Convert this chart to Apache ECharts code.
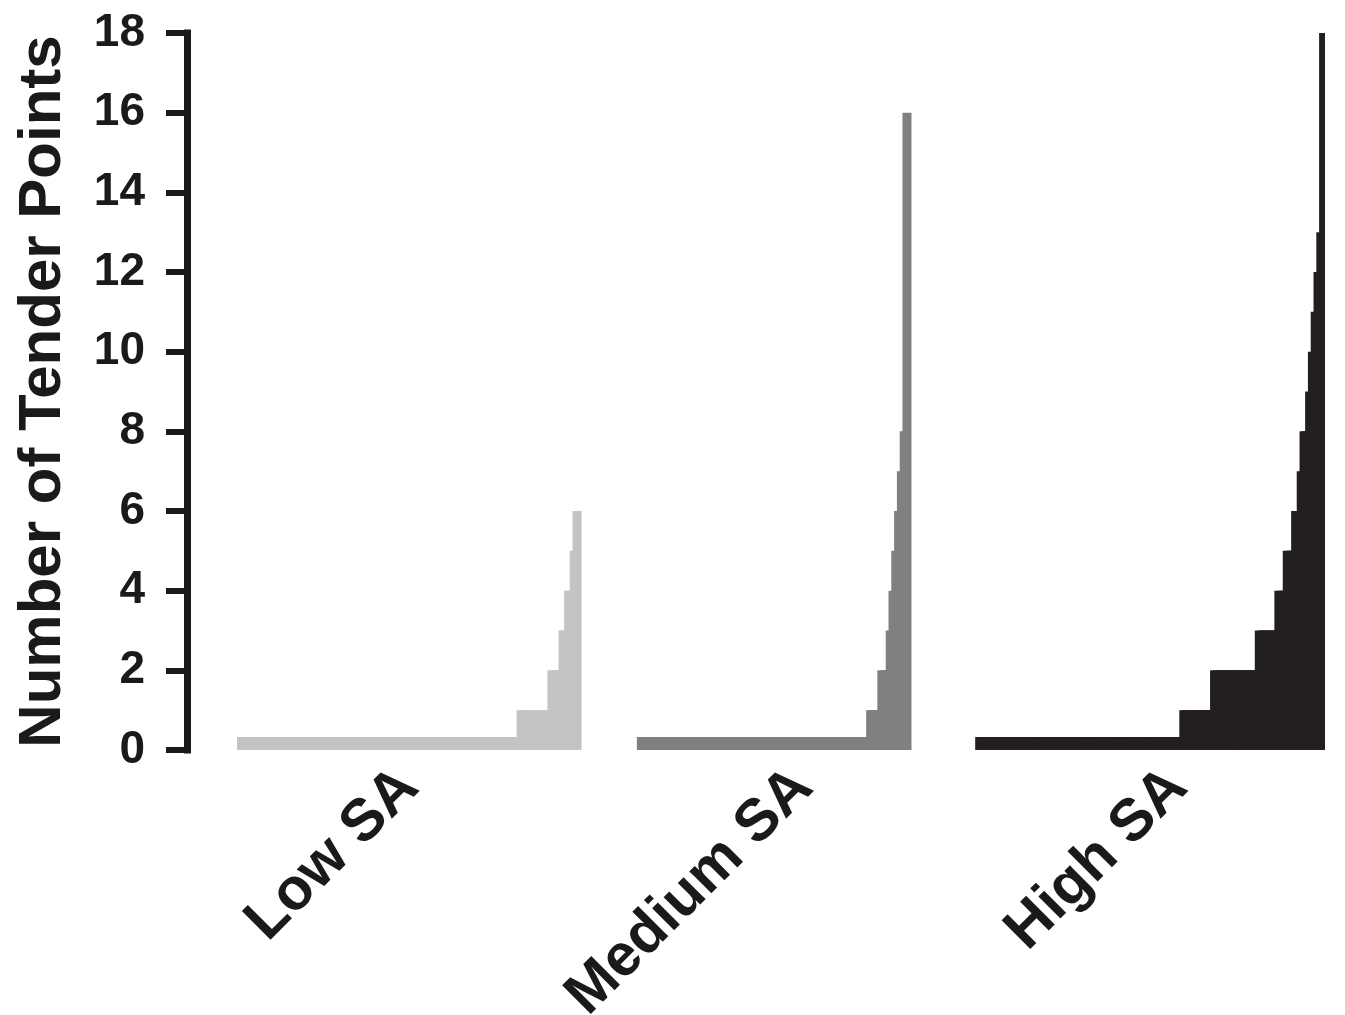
<!DOCTYPE html>
<html>
<head>
<meta charset="utf-8">
<script src="https://cdn.jsdelivr.net/npm/echarts@6/dist/echarts.min.js"></script>
<style>
html,body{margin:0;padding:0;background:#ffffff;}
#chart{width:1345px;height:1015px;}
</style>
</head>
<body>
<div id="chart"></div>
<script>
// ---- Data (tender-point value and number of subjects at it) ----
const groupLabels = ['Low SA', 'Medium SA', 'High SA'];
const lowLevels  = [0, 1, 2, 3, 4, 5, 6];
const lowCounts  = [100, 11, 4, 2, 2, 1, 1];
const medLevels  = [0, 1, 2, 3, 4, 5, 6, 7, 8, 16];
const medCounts  = [82, 4, 3, 1, 1, 1, 1, 1, 1, 1];
const highLevels = [0, 1, 2, 3, 4, 5, 6, 7, 8, 9, 10, 11, 12, 13, 18];
const highCounts = [73, 11, 16, 7, 3, 3, 2, 1, 2, 1, 1, 1, 1, 1, 1];
const yTicks = [0, 2, 4, 6, 8, 10, 12, 14, 16, 18];

// ---- Build per-subject sorted values from the frequency tables ----
function expand(levels, counts) {
  const out = [];
  levels.forEach(function (v, i) { for (let k = 0; k < counts[i]; k++) out.push(v); });
  return out;
}
const groups = [expand(lowLevels, lowCounts), expand(medLevels, medCounts), expand(highLevels, highCounts)];

// layout of category slots (empty slots before/between groups)
const leadPad = 19;
const gaps = [22, 25];
const labelOffset = [60, 58, 71];
const colors = ['#c4c4c4', '#808080', '#231f20'];

const starts = [];
let idx = leadPad;
groups.forEach(function (g, gi) {
  starts.push(idx);
  idx += g.length;
  if (gi < gaps.length) idx += gaps[gi];
});
const total = idx;

const categories = [];
for (let i = 0; i < total; i++) categories.push('');
groups.forEach(function (g, gi) { categories[starts[gi] + labelOffset[gi]] = groupLabels[gi]; });

const series = groups.map(function (g, gi) {
  const data = [];
  for (let i = 0; i < total; i++) data.push('-');
  g.forEach(function (v, k) { data[starts[gi] + k] = v; });
  return {
    type: 'bar',
    name: groupLabels[gi],
    data: data,
    barWidth: 9,
    barGap: '-100%',
    barMinHeight: 13,
    itemStyle: { color: colors[gi] },
    emphasis: { disabled: true },
    animation: false
  };
});

const font = "'Liberation Sans', Arial, sans-serif";
const ink = '#1a1a1a';

const chart = echarts.init(document.getElementById('chart'), null, { renderer: 'canvas' });
chart.setOption({
  backgroundColor: '#ffffff',
  animation: false,
  grid: { left: 187, right: 20, top: 33, bottom: 265, containLabel: false, outerBoundsMode: 'none' },
  xAxis: {
    type: 'category',
    data: categories,
    boundaryGap: true,
    axisLine: { show: false },
    axisTick: { show: false },
    splitLine: { show: false },
    axisLabel: {
      interval: 0,
      rotate: 45,
      margin: 28,
      fontSize: 59,
      fontWeight: 'bold',
      fontFamily: font,
      color: ink
    }
  },
  yAxis: {
    type: 'value',
    min: yTicks[0],
    max: yTicks[yTicks.length - 1],
    interval: yTicks[1] - yTicks[0],
    name: 'Number of Tender Points',
    nameLocation: 'middle',
    nameRotate: 90,
    nameGap: 114,
    nameTextStyle: { fontSize: 60, fontWeight: 'bold', fontFamily: font, color: ink },
    axisLine: { show: true, lineStyle: { color: ink, width: 7, cap: 'square' } },
    axisTick: { show: true, length: 21, lineStyle: { color: ink, width: 6 } },
    splitLine: { show: false },
    axisLabel: { margin: 42, fontSize: 46, fontWeight: 'bold', fontFamily: font, color: ink }
  },
  series: series
});
</script>
</body>
</html>
